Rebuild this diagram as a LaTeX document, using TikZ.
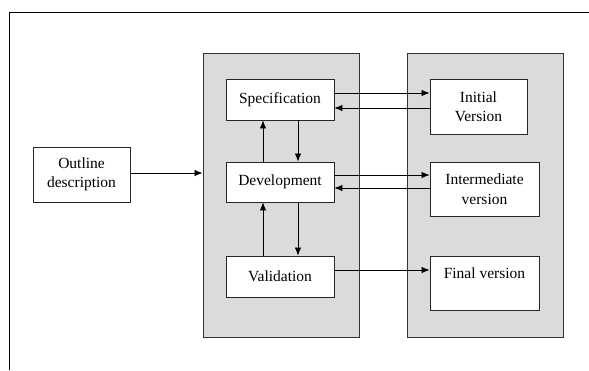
\documentclass[tikz,border=0pt]{standalone}
\usepackage{fontspec}
\setmainfont{Liberation Serif}
\usetikzlibrary{arrows.meta}
\begin{document}
\begin{tikzpicture}[x=1pt,y=-1pt,
  every node/.style={font=\fontsize{15.5}{19.5}\selectfont, inner sep=0pt, align=center},
  panel/.style={draw=black!80, line width=0.9pt, fill=black!14, anchor=north west},
  stepbox/.style={draw=black!85, line width=0.9pt, fill=white, minimum width=#1},
  link/.style={line width=0.8pt, -{Latex[length=8pt,width=6.5pt]}}]
\useasboundingbox (0,0) rectangle (589,370);
% open outer frame
\draw[line width=0.8pt] (9,370) -- (9,12) -- (589,12);
% shaded groups
\node[panel, minimum width=156.5pt, minimum height=284pt] (proc) at (202.5,53) {};
\node[panel, minimum width=156pt, minimum height=284pt] (vers) at (407,53) {};
% activity boxes
\node[stepbox=108pt, minimum height=41pt] (spec) at (280,99.5) {Specification};
\node[stepbox=108pt, minimum height=40pt] (dev) at (280,182) {Development};
\node[stepbox=108pt, minimum height=41pt] (val) at (280,276.5) {Validation};
% version boxes
\node[stepbox=97pt, minimum height=55pt] (init) at (478.5,106.5) {Initial\\Version};
\node[stepbox=109pt, minimum height=54pt] (inter) at (484.5,189) {Intermediate\\version};
\node[stepbox=109pt, minimum height=54pt] (final) at (484.5,283) {Final version\\~};
% input box
\node[stepbox=97pt, minimum height=55pt] (outline) at (81.5,174.5) {Outline\\description};
% connectors
\draw[link] ([yshift=1.5pt]outline.east) -- ([yshift=1.5pt]outline.east -| proc.west);
\draw[link] ([yshift=6.5pt]spec.east) -- ([yshift=6.5pt]spec.east -| init.west);
\draw[link] ([yshift=-8.5pt]spec.east -| init.west) -- ([yshift=-8.5pt]spec.east);
\draw[link] ([yshift=7pt]dev.east) -- ([yshift=7pt]dev.east -| inter.west);
\draw[link] ([yshift=-6pt]dev.east -| inter.west) -- ([yshift=-6pt]dev.east);
\draw[link] ([yshift=6.5pt]val.east) -- ([yshift=6.5pt]val.east -| final.west);
\draw[link] ([xshift=-17pt]dev.north) -- ([xshift=-17pt]dev.north |- spec.south);
\draw[link] ([xshift=18pt]spec.south) -- ([xshift=18pt]spec.south |- dev.north);
\draw[link] ([xshift=-17pt]val.north) -- ([xshift=-17pt]val.north |- dev.south);
\draw[link] ([xshift=18pt]dev.south) -- ([xshift=18pt]dev.south |- val.north);
\end{tikzpicture}
\end{document}
